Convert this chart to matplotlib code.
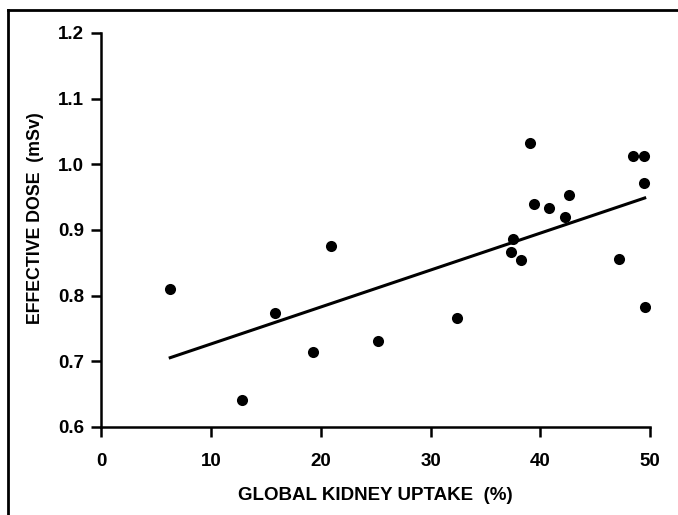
import matplotlib
matplotlib.use('Agg')
import matplotlib.pyplot as plt
import numpy as np
from matplotlib.lines import Line2D

# global kidney uptake (%) vs effective dose (mSv)
uptake = [6.3, 12.8, 15.8, 19.3, 20.9, 25.2, 32.4, 37.3, 37.5, 38.2,
          39.1, 39.4, 40.8, 42.2, 42.6, 47.2, 48.4, 49.4, 49.4, 49.5]
dose = [0.810, 0.641, 0.773, 0.714, 0.875, 0.731, 0.766, 0.867, 0.886, 0.854,
        1.032, 0.939, 0.933, 0.919, 0.953, 0.855, 1.012, 1.012, 0.972, 0.782]

# regression line
fit_slope = 0.00563
fit_intercept = 0.670

x_ticks = [0, 10, 20, 30, 40, 50]
y_ticks = [0.6, 0.7, 0.8, 0.9, 1.0, 1.1, 1.2]

plt.rcParams['font.family'] = ['Liberation Sans', 'DejaVu Sans']
plt.rcParams['font.weight'] = 'bold'

fig = plt.figure(figsize=(6.78, 5.15), dpi=100)
ax = fig.add_axes([0.149, 0.171, 0.810, 0.765])

ax.scatter(uptake, dose, s=64, color='black', zorder=3, linewidths=0)

xs = np.array([min(uptake), max(uptake)])
ax.plot(xs, fit_intercept + fit_slope * xs, color='black', lw=2.2)

ax.set_xlim(0, 50)
ax.set_ylim(0.6, 1.2)
ax.set_xticks(x_ticks)
ax.set_xticklabels([str(t) for t in x_ticks])
ax.set_yticks(y_ticks)
ax.set_yticklabels(['%.1f' % t for t in y_ticks])

for side in ['top', 'right']:
    ax.spines[side].set_visible(False)
for side in ['left', 'bottom']:
    ax.spines[side].set_linewidth(1.8)
ax.tick_params(axis='both', direction='out', length=7, width=1.8,
               labelsize=13.5, pad=5)
ax.tick_params(axis='x', pad=12)
for lbl in ax.get_xticklabels() + ax.get_yticklabels():
    lbl.set_fontweight('bold')

ax.set_xlabel('GLOBAL KIDNEY UPTAKE  (%)', fontsize=13.5, fontweight='bold', labelpad=12)
ax.set_ylabel('EFFECTIVE DOSE  (mSv)', fontsize=12.8, fontweight='bold')
ax.yaxis.set_label_coords(-0.104, 0.53)

# outer frame (left and top edges)
fig.add_artist(Line2D([0.012, 0.012], [0.0, 0.981], color='black', lw=2,
                      transform=fig.transFigure))
fig.add_artist(Line2D([0.012, 1.0], [0.981, 0.981], color='black', lw=2,
                      transform=fig.transFigure))

fig.savefig('out.png', dpi=100)
